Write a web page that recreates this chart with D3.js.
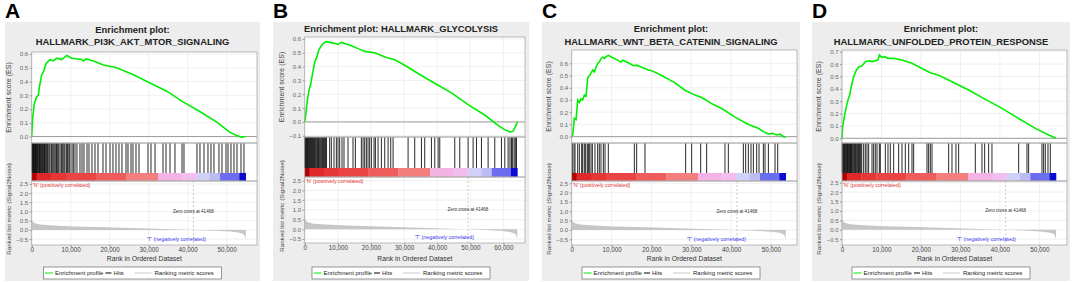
<!DOCTYPE html>
<html>
<head>
<meta charset="utf-8">
<script src="https://cdn.jsdelivr.net/npm/d3@7"></script>
<style>
  body { margin: 0; background: #fff; }
  svg { display: block; font-family: "Liberation Sans", Arial, sans-serif; }
</style>
</head>
<body>
<div id="gsea_figure"></div>
<script>
// ---- data ----
const letters = ["A", "B", "C", "D"];

const title_a = ["Enrichment plot:", "HALLMARK_PI3K_AKT_MTOR_SIGNALING"];
const title_b = ["Enrichment plot: HALLMARK_GLYCOLYSIS"];
const title_c = ["Enrichment plot:", "HALLMARK_WNT_BETA_CATENIN_SIGNALING"];
const title_d = ["Enrichment plot:", "HALLMARK_UNFOLDED_PROTEIN_RESPONSE"];

// list size (last rank) for each panel
const n_a = 54880, n_b = 64220, n_c = 53700, n_d = 54210;

// running enrichment score, [rank, ES]
const es_a = [[0,0],[260,0.14],[680,0.24],[1280,0.29],[1700,0.30],[1970,0.36],[2560,0.45],[3000,0.47],[3680,0.53],
  [4700,0.56],[5560,0.55],[6420,0.57],[7700,0.56],[9000,0.59],[10270,0.57],[12830,0.56],[13250,0.55],[13950,0.565],
  [15830,0.55],[18400,0.52],[21800,0.50],[26070,0.45],[30340,0.39],[34620,0.33],[38900,0.25],[43200,0.18],
  [47450,0.105],[50870,0.03],[52580,0.007],[53860,-0.005],[54880,0.0]];
const es_b = [[0,0],[300,0.05],[800,0.16],[1300,0.23],[1800,0.27],[2300,0.34],[3000,0.43],[3700,0.47],[4220,0.52],
  [5030,0.55],[5740,0.57],[6540,0.58],[7550,0.575],[9560,0.565],[10070,0.56],[11080,0.575],[12290,0.565],[14100,0.55],
  [16120,0.53],[18130,0.51],[21150,0.50],[24170,0.47],[27190,0.45],[30210,0.41],[34240,0.35],[39270,0.28],
  [44310,0.21],[49340,0.125],[54370,0.05],[58380,-0.025],[60390,-0.056],[61900,-0.073],[62910,-0.068],
  [63610,-0.036],[64220,0.0]];
const es_c = [[0,0],[250,0.014],[670,0.15],[1090,0.14],[1510,0.30],[1930,0.28],[2340,0.31],[2760,0.30],[3180,0.34],
  [3600,0.33],[4020,0.48],[4430,0.50],[4850,0.52],[5270,0.545],[5690,0.53],[6110,0.57],[6530,0.60],[6950,0.61],
  [7360,0.64],[7780,0.65],[8200,0.64],[8620,0.655],[9200,0.665],[10040,0.65],[11290,0.63],[12380,0.61],[12800,0.625],
  [14220,0.605],[15470,0.58],[16310,0.585],[17400,0.57],[19240,0.545],[20070,0.54],[22580,0.50],[25930,0.44],
  [28440,0.38],[30950,0.34],[32620,0.32],[35130,0.27],[37640,0.23],[40990,0.16],[44330,0.10],[46840,0.068],
  [48510,0.033],[49350,0.022],[50350,0.027],[51440,0.014],[52270,0.02],[53110,0.0],[53700,-0.005]];
const es_d = [[0,0],[170,0.094],[680,0.19],[1100,0.256],[1520,0.31],[1940,0.35],[2360,0.42],[2960,0.50],[3630,0.55],
  [4390,0.58],[5070,0.584],[5910,0.62],[6750,0.627],[7600,0.62],[8440,0.627],[9120,0.633],[9460,0.673],[10130,0.654],
  [10810,0.66],[11650,0.646],[13090,0.646],[15200,0.633],[17730,0.606],[20260,0.565],[22380,0.53],[24490,0.51],
  [27870,0.458],[32090,0.39],[36320,0.315],[40540,0.242],[44760,0.16],[48980,0.08],[52360,0.027],[54210,0.0]];

// gene set members (hits), rank positions
const hits_a = [80,150,260,330,410,480,590,700,850,980,1100,1220,1360,1500,1690,1870,2000,2130,2300,2460,2640,2800,
  2970,3150,3300,3410,3600,3850,4000,4180,4450,4690,5030,5200,5460,5700,5970,6230,6400,6560,6900,7260,7590,7800,8030,
  8300,8540,8970,9100,9310,9600,9820,10330,10670,11100,11610,12380,12900,13410,14180,14690,15460,16230,17000,18280,
  19050,20080,20840,21610,22380,23150,24180,24690,25460,25970,26740,27510,29820,30590,31620,33670,34440,35460,36740,
  38540,39050,42380,43150,44180,45200,45970,46740,48020,48790,49820,50330,51100,51870,52640,53670,54430];
const hits_b = [30,150,300,450,600,800,950,1100,1300,1500,1650,1850,2000,2200,2400,2600,2800,3000,3200,3450,3700,3900,
  4150,4400,4650,4900,5150,5400,5700,6000,6300,6600,7540,8040,8850,9560,10060,10560,11270,11870,13080,14590,15300,
  17110,17620,18120,18620,19130,19630,20140,20940,21350,22150,23160,24170,25180,25980,26690,31220,33230,35250,36250,
  38270,39280,40290,40790,45320,46830,49350,50860,51870,53380,55390,57400,59420,60430,61430,62000,62440,62800,63250,
  63600,63950];
const hits_c = [160,580,830,1500,1920,2500,2750,3170,3500,3920,4170,4420,4840,5180,5840,6510,6930,7350,7940,8360,9190,
  15720,16300,18390,28590,30100,32360,33860,38460,39300,43070,43650,44320,44990,45580,46410,47000,48090,48510,49350,
  51020,51690];
const hits_d = [50,200,350,500,650,800,950,1100,1250,1400,1550,1700,1850,2000,2150,2300,2450,2600,2800,3000,3200,3400,
  3600,3800,4000,4200,4400,4600,4800,5000,5490,5910,6330,6750,7600,8020,8440,8870,9460,9710,10980,11650,12240,13090,
  14350,15200,16040,16890,17730,18150,21530,21950,22380,22800,27020,27860,28870,29550,33770,35460,36140,37150,37990,
  44750,46860,47280,50660,51080,51500,52180,52770];

// ranked list metric (Signal2Noise), position as share of the list, value
const metric_pos = [0, 0.004, 0.015, 0.04, 0.1, 0.2, 0.35, 0.5, 0.65, 0.755, 0.85, 0.93, 0.965, 0.985, 0.995, 1.0];
const metric_val = [0.55, 0.45, 0.36, 0.29, 0.24, 0.19, 0.14, 0.09, 0.04, 0.0, -0.04, -0.09, -0.14, -0.2, -0.3, -0.5];

// heat bar under the hits, segment edges as share of the list
const bar_pos = [0, 0.023, 0.09, 0.16, 0.30, 0.44, 0.59, 0.70, 0.77, 0.83, 0.88, 0.97, 1.0];
const bar_colors = ["#b00000","#e02828","#e63636","#ea4444","#ee5c5c","#f27e7e","#f5b2e4","#f2bdef","#d0d0f8",
  "#bcbcf4","#6c6cee","#0a0ad2"];

const es_ticks_a = [0, 0.1, 0.2, 0.3, 0.4, 0.5, 0.6];
const es_ticks_b = [-0.1, 0, 0.1, 0.2, 0.3, 0.4, 0.5, 0.6];
const es_ticks_d = [0, 0.1, 0.2, 0.3, 0.4, 0.5, 0.6, 0.7];
const metric_ticks = [-0.5, 0, 0.5, 1.0, 1.5, 2.0, 2.5];
const rank_ticks = [0, 10000, 20000, 30000, 40000, 50000];
const rank_ticks_b = [0, 10000, 20000, 30000, 40000, 50000, 60000];

const zero_cross_label = "Zero cross at 41468";
const legend_labels = ["Enrichment profile", "Hits", "Ranking metric scores"];

// ---- layout ----
const width = 1072, height = 282;

const panels = [
  {letter: letters[0], title: title_a, titleY: [33, 45], es: es_a, hits: hits_a, n: n_a, esTicks: es_ticks_a,
   xTicks: rank_ticks, zero: 41468,
   box: [5, 260], plot: [31.7, 257], xMax: 57770,
   esY: [52, 143], esDomain: [-0.047, 0.615], barY: [173, 181],
   mY: [181, 245], mDomain: [-0.82, 2.66]},
  {letter: letters[1], title: title_b, titleY: [32], es: es_b, hits: hits_b, n: n_b, esTicks: es_ticks_b,
   xTicks: rank_ticks_b, zero: 49300,
   box: [273, 529], plot: [304.7, 525], xMax: 66530,
   esY: [37, 137], esDomain: [-0.109, 0.614], barY: [168, 177],
   mY: [177, 243], mDomain: [-0.706, 2.69]},
  {letter: letters[2], title: title_c, titleY: [32, 45], es: es_c, hits: hits_c, n: n_c, esTicks: es_ticks_a,
   xTicks: rank_ticks, zero: 41468,
   box: [542, 800], plot: [571.7, 797], xMax: 56530,
   esY: [50, 143], esDomain: [-0.052, 0.709], barY: [173, 181],
   mY: [181, 245], mDomain: [-0.805, 2.62]},
  {letter: letters[3], title: title_d, titleY: [32, 45], es: es_d, hits: hits_d, n: n_d, esTicks: es_ticks_d,
   xTicks: rank_ticks, zero: 41468,
   box: [812, 1070], plot: [842, 1067], xMax: 57000,
   esY: [50, 143], esDomain: [-0.038, 0.714], barY: [173, 181],
   mY: [181, 245], mDomain: [-0.81, 2.59]}
];

const svg = d3.select("#gsea_figure")
  .append("svg")
    .attr("width", width)
    .attr("height", height);

function styleAxis(sel, size, color) {
  sel.select(".domain").remove();
  sel.selectAll(".tick line").attr("stroke", "#999");
  sel.selectAll(".tick text").style("font-size", size + "px").attr("fill", color);
}

function drawPanel(p) {
  const g = svg.append("g");
  const [bl, br] = p.box, [pl, pr] = p.plot;
  const cx = (bl + br) / 2;

  // grey chart background
  g.append("rect")
    .attr("x", bl).attr("y", 22)
    .attr("width", br - bl).attr("height", 259)
    .attr("fill", "#ededed");

  g.append("text")
    .attr("x", bl).attr("y", 18)
    .style("font-size", "21px").style("font-weight", "bold")
    .text(p.letter);

  p.title.forEach((t, i) => {
    g.append("text")
      .attr("x", cx).attr("y", p.titleY[i])
      .attr("text-anchor", "middle")
      .style("font-size", "9.4px").style("font-weight", "bold").attr("fill", "#222")
      .text(t);
  });

  const x = d3.scaleLinear().domain([0, p.xMax]).range([pl, pr]);
  const yEs = d3.scaleLinear().domain(p.esDomain).range([p.esY[1], p.esY[0]]);
  const yM = d3.scaleLinear().domain(p.mDomain).range([p.mY[1], p.mY[0]]);

  // white plot areas
  g.append("rect").attr("x", pl).attr("y", p.esY[0]).attr("width", pr - pl).attr("height", p.mY[1] - p.esY[0])
    .attr("fill", "#fff");

  // grid lines
  const grid = g.append("g").attr("stroke", "#e6e6e6").attr("stroke-width", 0.6);
  p.xTicks.forEach(t => {
    grid.append("line").attr("x1", x(t)).attr("x2", x(t)).attr("y1", p.esY[0]).attr("y2", p.esY[1]);
    grid.append("line").attr("x1", x(t)).attr("x2", x(t)).attr("y1", p.mY[0]).attr("y2", p.mY[1]);
  });
  p.esTicks.forEach(t => {
    grid.append("line").attr("x1", pl).attr("x2", pr).attr("y1", yEs(t)).attr("y2", yEs(t));
  });
  metric_ticks.forEach(t => {
    grid.append("line").attr("x1", pl).attr("x2", pr).attr("y1", yM(t)).attr("y2", yM(t));
  });

  // ES zero line
  g.append("line").attr("x1", pl).attr("x2", pr).attr("y1", yEs(0)).attr("y2", yEs(0))
    .attr("stroke", "#888").attr("stroke-width", 0.8);

  // hits
  g.append("g")
    .selectAll("line")
    .data(p.hits)
    .join("line")
      .attr("x1", d => x(d)).attr("x2", d => x(d))
      .attr("y1", p.esY[1]).attr("y2", p.barY[0])
      .attr("stroke", "#111").attr("stroke-width", 0.9);

  // heat bar
  g.append("g")
    .selectAll("rect")
    .data(bar_colors)
    .join("rect")
      .attr("x", (d, i) => x(bar_pos[i] * p.n))
      .attr("width", (d, i) => x(bar_pos[i + 1] * p.n) - x(bar_pos[i] * p.n) + 0.3)
      .attr("y", p.barY[0]).attr("height", p.barY[1] - p.barY[0])
      .attr("fill", d => d);

  // ranked list metric
  const metric = metric_pos.map((f, i) => [f * p.n, metric_val[i]]);
  g.append("path")
    .datum(metric)
    .attr("d", d3.area().x(d => x(d[0])).y0(yM(0)).y1(d => yM(d[1])))
    .attr("fill", "#c6c6c6");

  // zero cross marker
  g.append("line").attr("x1", x(p.zero)).attr("x2", x(p.zero)).attr("y1", p.mY[0]).attr("y2", p.mY[1])
    .attr("stroke", "#aaa").attr("stroke-width", 0.6).attr("stroke-dasharray", "2,2");
  g.append("text").attr("x", x(p.zero)).attr("y", yM(1.0) + 1.5)
    .attr("text-anchor", "middle").style("font-size", "4.6px").attr("fill", "#333")
    .text(zero_cross_label);

  g.append("text").attr("x", pl + 1).attr("y", p.mY[0] + 5.5)
    .style("font-size", "5.3px").attr("fill", "#e03030")
    .text("'N' (positively correlated)");
  g.append("text").attr("x", pr - 51).attr("y", p.mY[1] - 4.5)
    .attr("text-anchor", "end").style("font-size", "5.3px").attr("fill", "#3a3af0")
    .text("'T' (negatively correlated)");

  // running ES
  g.append("path")
    .datum(p.es)
    .attr("d", d3.line().x(d => x(d[0])).y(d => yEs(d[1])))
    .attr("fill", "none").attr("stroke", "#00ee00").attr("stroke-width", 1.6);

  // borders
  const border = g.append("g").attr("fill", "none").attr("stroke", "#aaa").attr("stroke-width", 0.8);
  border.append("rect").attr("x", pl).attr("y", p.esY[0]).attr("width", pr - pl).attr("height", p.esY[1] - p.esY[0]);
  border.append("rect").attr("x", pl).attr("y", p.esY[1]).attr("width", pr - pl).attr("height", p.mY[0] - p.esY[1]);
  border.append("rect").attr("x", pl).attr("y", p.mY[0]).attr("width", pr - pl).attr("height", p.mY[1] - p.mY[0]);

  // axes
  g.append("g")
    .attr("transform", `translate(${pl},0)`)
    .call(d3.axisLeft(yEs).tickValues(p.esTicks).tickSize(2).tickPadding(1.5).tickFormat(d3.format(".1f")))
    .call(styleAxis, 6, "#666");
  g.append("g")
    .attr("transform", `translate(${pl},0)`)
    .call(d3.axisLeft(yM).tickValues(metric_ticks).tickSize(2).tickPadding(1.5).tickFormat(d3.format(".1f")))
    .call(styleAxis, 6, "#666");
  g.append("g")
    .attr("transform", `translate(0,${p.mY[1]})`)
    .call(d3.axisBottom(x).tickValues(p.xTicks).tickSize(2).tickPadding(1).tickFormat(d3.format(",")))
    .call(styleAxis, 6.3, "#444");

  // axis titles
  g.append("text")
    .attr("transform", `translate(${pl - 21},${(p.esY[0] + p.esY[1]) / 2}) rotate(-90)`)
    .attr("text-anchor", "middle").style("font-size", "7px").attr("fill", "#444")
    .text("Enrichment score (ES)");
  g.append("text")
    .attr("transform", `translate(${pl - 21},${(p.mY[0] + p.mY[1]) / 2 - 4}) rotate(-90)`)
    .attr("text-anchor", "middle").style("font-size", "6.2px").attr("fill", "#444")
    .text("Ranked list metric (Signal2Noise)");
  g.append("text")
    .attr("x", (pl + pr) / 2).attr("y", 260.5)
    .attr("text-anchor", "middle").style("font-size", "6.8px").attr("fill", "#333")
    .text("Rank in Ordered Dataset");

  // legend
  const lg = g.append("g").attr("transform", `translate(${cx - 89},267)`);
  lg.append("rect").attr("width", 178).attr("height", 12).attr("fill", "#fff")
    .attr("stroke", "#555").attr("stroke-width", 0.6);
  const items = [
    {x1: 1.5, x2: 9.5, tx: 11.5, color: "#00ee00"},
    {x1: 62, x2: 68, tx: 70, color: "#000"},
    {x1: 91, x2: 108, tx: 111, color: "#c8c8c8"}
  ];
  items.forEach((it, i) => {
    lg.append("line").attr("x1", it.x1).attr("x2", it.x2).attr("y1", 6).attr("y2", 6)
      .attr("stroke", it.color).attr("stroke-width", 1);
    lg.append("text").attr("x", it.tx).attr("y", 8.2)
      .style("font-size", "6px").attr("fill", "#222")
      .text(legend_labels[i]);
  });
}

panels.forEach(drawPanel);
</script>
</body>
</html>
